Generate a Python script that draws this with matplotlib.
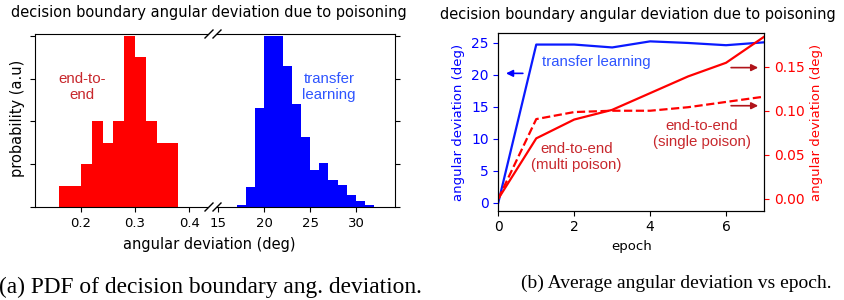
import matplotlib
matplotlib.use('Agg')
import matplotlib.pyplot as plt

# (a) histogram data
e2e_edges = [0.16, 0.18, 0.20, 0.22, 0.24, 0.26, 0.28, 0.30, 0.32, 0.34, 0.36, 0.38]
e2e_heights = [1, 1, 2, 4, 3, 4, 8, 7, 4, 3, 3]
tl_edges = [17, 18, 19, 20, 21, 22, 23, 24, 25, 26, 27, 28, 29, 30, 31, 32]
tl_heights = [0.11, 0.92, 4.64, 8.0, 8.0, 6.58, 4.83, 3.29, 1.74, 2.07, 1.27, 1.04, 0.57, 0.26, 0.11]

# (b) angular deviation vs epoch
epochs = [0, 1, 2, 3, 4, 5, 6, 7]
transfer = [0.0, 24.7, 24.7, 24.25, 25.2, 24.95, 24.6, 25.05]
e2e_multi = [0.0, 0.0686, 0.090, 0.101, 0.120, 0.139, 0.1545, 0.184]
e2e_single = [0.0, 0.0905, 0.0985, 0.100, 0.100, 0.104, 0.110, 0.116]

W, H = 844, 300
fig = plt.figure(figsize=(W / 100, H / 100), dpi=100)

def box(l, t, r, b):
    return [l / W, 1 - b / H, (r - l) / W, (b - t) / H]

fs = 9.5
lfs = 10.5
afs = 10.8
ann_font = ['Liberation Sans', 'DejaVu Sans']
text_red = '#c8282d'
text_blue = '#2f55ff'

# ---------- (a) ----------
ax1 = fig.add_axes(box(35, 34, 207, 207))
ax2 = fig.add_axes(box(217, 34, 395, 207))

ax1.bar(e2e_edges[:-1], e2e_heights, width=[b - a for a, b in zip(e2e_edges[:-1], e2e_edges[1:])],
        align='edge', color='#ff0000', linewidth=0)
ax2.bar(tl_edges[:-1], tl_heights, width=[b - a for a, b in zip(tl_edges[:-1], tl_edges[1:])],
        align='edge', color='#0000ff', linewidth=0)

ax1.set_xlim(0.115, 0.433)
ax2.set_xlim(14.85, 34.25)
for ax in (ax1, ax2):
    ax.set_ylim(0, 8.08)
    ax.set_yticks([0, 2, 4, 6, 8])
    ax.set_yticklabels([])
    ax.tick_params(labelsize=fs)
ax1.set_xticks([0.2, 0.3, 0.4])
ax2.set_xticks([15, 20, 25, 30])
ax1.spines['right'].set_visible(False)
ax2.spines['left'].set_visible(False)
ax2.yaxis.tick_right()

ax1.text(0.202, 5.6, 'end-to-\nend', color=text_red, fontsize=afs, family=ann_font,
         ha='center', va='center', linespacing=1.2)
ax2.text(27.06, 5.6, 'transfer\nlearning', color=text_blue, fontsize=afs, family=ann_font,
         ha='center', va='center', linespacing=1.2)

# break marks
for x0 in (205, 213):
    for y0 in (34, 207):
        fig.add_artist(plt.Line2D([x0 / W, (x0 + 8) / W], [1 - (y0 + 4) / H, 1 - (y0 - 4) / H],
                                  color='k', linewidth=1))

fig.text(18 / W, 1 - 118 / H, 'probability (a.u)', rotation=90, ha='center', va='center', fontsize=lfs)
fig.text(209 / W, 1 - 245 / H, 'angular deviation (deg)', ha='center', va='center', fontsize=lfs)
fig.text(209 / W, 1 - 12 / H, 'decision boundary angular deviation due to poisoning',
         ha='center', va='center', fontsize=lfs)
fig.text(-1 / W, 1 - 287 / H, '(a) PDF of decision boundary ang. deviation.',
         ha='left', va='center', fontsize=16.8, family='Liberation Serif')

# ---------- (b) ----------
ax3 = fig.add_axes(box(498.3, 33.3, 764, 210.7))
ax4 = ax3.twinx()

ax3.plot(epochs, transfer, color='#0a1aff', linewidth=1.6)
ax4.plot(epochs, e2e_multi, color='#ff0000', linewidth=1.6)
ax4.plot(epochs, e2e_single, color='#ff0000', linewidth=1.6, linestyle='--')

ax3.set_xlim(0, 7)
ax3.set_ylim(-1.26, 26.46)
ax4.set_ylim(-0.0136, 0.188)
ax3.set_yticks([0, 5, 10, 15, 20, 25])
ax4.set_yticks([0.0, 0.05, 0.10, 0.15])
ax4.set_yticklabels(['0.00', '0.05', '0.10', '0.15'])
ax3.set_xticks([0, 2, 4, 6])
ax3.tick_params(labelsize=10)
ax3.tick_params(axis='y', colors='#0000ff')
ax4.tick_params(labelsize=10, colors='#ff0000')
ax3.set_xlabel('epoch', fontsize=fs)
ax3.set_ylabel('angular deviation (deg)', color='#0000ff', fontsize=fs)
ax4.set_ylabel('angular deviation (deg)', color='#ff0000', fontsize=fs)

ax3.annotate('', xy=(0.13, 20.2), xytext=(0.72, 20.2),
             arrowprops=dict(arrowstyle='-|>', color='#0000ff', lw=1.2, mutation_scale=10))
ax3.text(2.59, 21.9, 'transfer learning', color=text_blue, fontsize=afs, family=ann_font,
         ha='center', va='center')
for yv in (0.149, 0.1057):
    ax4.annotate('', xy=(6.92, yv), xytext=(6.06, yv),
                 arrowprops=dict(arrowstyle='-|>', color='#b0141a', lw=1.2, mutation_scale=10))
ax4.text(2.06, 0.0477, 'end-to-end\n(multi poison)', color=text_red, fontsize=afs, family=ann_font,
         ha='center', va='center', linespacing=1.2)
ax4.text(5.36, 0.074, 'end-to-end\n(single poison)', color=text_red, fontsize=afs, family=ann_font,
         ha='center', va='center', linespacing=1.2)

fig.text(638 / W, 1 - 15 / H, 'decision boundary angular deviation due to poisoning',
         ha='center', va='center', fontsize=lfs)
fig.text(676 / W, 1 - 283 / H, '(b) Average angular deviation vs epoch.',
         ha='center', va='center', fontsize=14, family='Liberation Serif')

fig.savefig('out.png', dpi=100)
